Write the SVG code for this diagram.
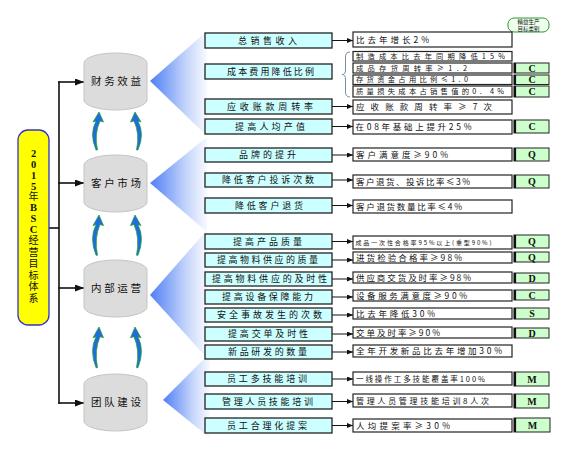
<svg xmlns="http://www.w3.org/2000/svg" xmlns:xlink="http://www.w3.org/1999/xlink" width="570" height="458" viewBox="0 0 570 458">
<style>
.lb{fill:#ccffff;stroke:#222;stroke-width:1.3}
.rb{fill:#fff;stroke:#222;stroke-width:1.2}
.gb{fill:#ccffcc;stroke:#222;stroke-width:1}
.gl{stroke:#111;stroke-width:2.2}
.t{font-family:"Noto Sans CJK SC","Liberation Sans",sans-serif;font-size:8.5px;fill:#111}
.lt{font-size:9px}
.st{font-size:7.3px}
.ct{font-size:10.5px;text-anchor:middle}
.g{font-family:"Liberation Serif",serif;font-weight:bold;font-size:10px;text-anchor:middle;fill:#111}
.cy{fill:#dcdcdc;stroke:#c4c4c4;stroke-width:1}
.big{fill:none;stroke:#111;stroke-width:1.6}
.sm{fill:none;stroke:#111;stroke-width:1}
.vt{font-family:"Noto Sans CJK SC",sans-serif;font-size:10px;text-anchor:middle;fill:#111}
.vd{font-family:"Liberation Serif",serif;font-weight:bold;font-size:10.5px}
</style>
<defs>
<marker id="ah" markerUnits="userSpaceOnUse" markerWidth="9" markerHeight="7" refX="9" refY="3.5" orient="auto"><path d="M0,0 L9,3.5 L0,7 Z" fill="#111"/></marker>
<marker id="as" markerUnits="userSpaceOnUse" markerWidth="6" markerHeight="5" refX="6" refY="2.5" orient="auto"><path d="M0,0 L6,2.5 L0,5 Z" fill="#111"/></marker>
<linearGradient id="f1" gradientUnits="userSpaceOnUse" x1="150" y1="0" x2="210" y2="0"><stop offset="0" stop-color="#4f7ff5"/><stop offset="0.6" stop-color="#c4d4fb"/><stop offset="1" stop-color="#ffffff"/></linearGradient>
<linearGradient id="f4" gradientUnits="userSpaceOnUse" x1="163" y1="0" x2="212" y2="0"><stop offset="0" stop-color="#4f7ff5"/><stop offset="0.6" stop-color="#c4d4fb"/><stop offset="1" stop-color="#ffffff"/></linearGradient>
<path id="ba" d="M0,0 L4.5,10 L1,9 Q-5,22 -1.5,38 L-3,38 Q-10,22 -3,9 L-6,10 Z" fill="#1d6fd6" stroke="#1f9a3a" stroke-width="0.7"/>
</defs>

<g id="fans">
<polygon points="150,81 207,31 207,136" fill="url(#f1)"/>
<polygon points="150,183 207,137 207,232" fill="url(#f1)"/>
<polygon points="150,295 207,230 207,358" fill="url(#f1)"/>
<polygon points="163,400 210,353 210,438" fill="url(#f4)"/>
</g>

<g id="connectors">
<line class="big" x1="49" y1="228" x2="59" y2="228"/>
<line class="big" x1="59" y1="81.2" x2="59" y2="403.8"/>
<line class="big" x1="58.2" y1="82" x2="84" y2="82" marker-end="url(#ah)"/>
<line class="big" x1="58.2" y1="183" x2="84" y2="183" marker-end="url(#ah)"/>
<line class="big" x1="58.2" y1="288" x2="84" y2="288" marker-end="url(#ah)"/>
<line class="big" x1="58.2" y1="403" x2="84" y2="403" marker-end="url(#ah)"/>
<use xlink:href="#ba" transform="translate(99,112)"/>
<use xlink:href="#ba" transform="translate(135,112) scale(-1,1)"/>
<use xlink:href="#ba" transform="translate(99,215) scale(1,1.06)"/>
<use xlink:href="#ba" transform="translate(135,215) scale(-1,1.06)"/>
<use xlink:href="#ba" transform="translate(99,327) scale(1,1.07)"/>
<use xlink:href="#ba" transform="translate(135,327) scale(-1,1.07)"/>
<line class="sm" x1="332" y1="40.5" x2="353" y2="40.5" marker-end="url(#as)"/>
<line class="sm" x1="332" y1="106.5" x2="353" y2="106.5" marker-end="url(#as)"/>
<line class="sm" x1="332" y1="126.5" x2="353" y2="126.5" marker-end="url(#as)"/>
<line class="sm" x1="332" y1="155" x2="353" y2="155" marker-end="url(#as)"/>
<line class="sm" x1="332" y1="180" x2="353" y2="180" marker-end="url(#as)"/>
<line class="sm" x1="332" y1="205.5" x2="353" y2="205.5" marker-end="url(#as)"/>
<line class="sm" x1="332" y1="241.5" x2="353" y2="241.5" marker-end="url(#as)"/>
<line class="sm" x1="332" y1="260" x2="353" y2="260" marker-end="url(#as)"/>
<line class="sm" x1="332" y1="279" x2="353" y2="279" marker-end="url(#as)"/>
<line class="sm" x1="332" y1="297" x2="353" y2="297" marker-end="url(#as)"/>
<line class="sm" x1="332" y1="315" x2="353" y2="315" marker-end="url(#as)"/>
<line class="sm" x1="332" y1="334" x2="353" y2="334" marker-end="url(#as)"/>
<line class="sm" x1="332" y1="352" x2="353" y2="352" marker-end="url(#as)"/>
<line class="sm" x1="332" y1="379" x2="353" y2="379" marker-end="url(#as)"/>
<line class="sm" x1="332" y1="401.5" x2="353" y2="401.5" marker-end="url(#as)"/>
<line class="sm" x1="332" y1="425.5" x2="353" y2="425.5" marker-end="url(#as)"/>
<path d="M350,52 Q345.5,52 345.5,57 L345.5,70 Q345.5,74.5 342,74.5 Q345.5,74.5 345.5,79 L345.5,92 Q345.5,97 350,97" fill="none" stroke="#6f7f99" stroke-width="0.9"/>
</g>

<g id="title">
<rect x="18" y="130" width="31" height="195" rx="10" fill="#ffff00" stroke="#3333cc" stroke-width="1.3"/>
<text class="vt"><tspan class="vd" x="33.5" y="157">2</tspan><tspan class="vd" x="33.5" y="168">0</tspan><tspan class="vd" x="33.5" y="179">1</tspan><tspan class="vd" x="33.5" y="190">5</tspan><tspan x="33.5" y="199.5">年</tspan><tspan class="vd" x="33.5" y="211">B</tspan><tspan class="vd" x="33.5" y="222">S</tspan><tspan class="vd" x="33.5" y="233">C</tspan><tspan x="33.5" y="244">经</tspan><tspan x="33.5" y="255.5">营</tspan><tspan x="33.5" y="267">目</tspan><tspan x="33.5" y="278.5">标</tspan><tspan x="33.5" y="290">体</tspan><tspan x="33.5" y="301.5">系</tspan></text>
</g>

<g id="cyl-finance"><path class="cy" d="M84,63 A31.5,10 0 0 1 147,63 L147,100 A31.5,10 0 0 1 84,100 Z"/><text class="t ct" x="116" y="85" textLength="50" lengthAdjust="spacing">财务效益</text></g>
<g id="cyl-customer"><path class="cy" d="M84,165 A31.5,10 0 0 1 147,165 L147,202 A31.5,10 0 0 1 84,202 Z"/><text class="t ct" x="116" y="187" textLength="50" lengthAdjust="spacing">客户市场</text></g>
<g id="cyl-internal"><path class="cy" d="M84,270 A31.5,10 0 0 1 147,270 L147,307 A31.5,10 0 0 1 84,307 Z"/><text class="t ct" x="116" y="292" textLength="50" lengthAdjust="spacing">内部运营</text></g>
<g id="cyl-team"><path class="cy" d="M84,384 A31.5,10 0 0 1 147,384 L147,421 A31.5,10 0 0 1 84,421 Z"/><text class="t ct" x="116" y="406" textLength="50" lengthAdjust="spacing">团队建设</text></g>

<g id="legend"><rect x="508" y="18" width="41" height="14" rx="6" fill="#eeffee" stroke="#339933" stroke-width="1"/><text class="t" x="528.5" y="24" text-anchor="middle" style="font-size:5.5px">精益生产</text><text class="t" x="528.5" y="30.5" text-anchor="middle" style="font-size:5.5px">目标类别</text></g>

<g id="left-boxes">
<g id="l1"><rect class="lb" x="205" y="33" width="127" height="15"/><text class="t lt" x="238" y="43.5" textLength="59" lengthAdjust="spacing">总销售收入</text></g>
<g id="l2"><rect class="lb" x="205" y="64" width="127" height="15"/><text class="t lt" x="227" y="74.5" textLength="87" lengthAdjust="spacing">成本费用降低比例</text></g>
<g id="l3"><rect class="lb" x="205" y="99" width="127" height="15"/><text class="t lt" x="227" y="109.5" textLength="86" lengthAdjust="spacing">应收账款周转率</text></g>
<g id="l4"><rect class="lb" x="205" y="119" width="127" height="15"/><text class="t lt" x="235" y="129.5" textLength="70" lengthAdjust="spacing">提高人均产值</text></g>
<g id="l5"><rect class="lb" x="205" y="148" width="127" height="14"/><text class="t lt" x="239" y="158" textLength="57" lengthAdjust="spacing">品牌的提升</text></g>
<g id="l6"><rect class="lb" x="205" y="173" width="127" height="14"/><text class="t lt" x="222" y="183" textLength="92" lengthAdjust="spacing">降低客户投诉次数</text></g>
<g id="l7"><rect class="lb" x="205" y="198" width="127" height="15"/><text class="t lt" x="235" y="208.5" textLength="68" lengthAdjust="spacing">降低客户退货</text></g>
<g id="l8"><rect class="lb" x="205" y="234" width="127" height="15"/><text class="t lt" x="233" y="244.5" textLength="69" lengthAdjust="spacing">提高产品质量</text></g>
<g id="l9"><rect class="lb" x="205" y="253" width="127" height="14"/><text class="t lt" x="217" y="263" textLength="101" lengthAdjust="spacing">提高物料供应的质量</text></g>
<g id="l10"><rect class="lb" x="205" y="272" width="127" height="14"/><text class="t lt" x="212" y="282" textLength="115" lengthAdjust="spacing">提高物料供应的及时性</text></g>
<g id="l11"><rect class="lb" x="205" y="290" width="127" height="14"/><text class="t lt" x="222" y="300" textLength="91" lengthAdjust="spacing">提高设备保障能力</text></g>
<g id="l12"><rect class="lb" x="205" y="308" width="127" height="14"/><text class="t lt" x="217" y="318" textLength="105" lengthAdjust="spacing">安全事故发生的次数</text></g>
<g id="l13"><rect class="lb" x="205" y="327" width="127" height="14"/><text class="t lt" x="228" y="337" textLength="80" lengthAdjust="spacing">提高交单及时性</text></g>
<g id="l14"><rect class="lb" x="205" y="345" width="127" height="14"/><text class="t lt" x="228" y="355" textLength="79" lengthAdjust="spacing">新品研发的数量</text></g>
<g id="l15"><rect class="lb" x="205" y="372" width="127" height="14"/><text class="t lt" x="227" y="382" textLength="80" lengthAdjust="spacing">员工多技能培训</text></g>
<g id="l16"><rect class="lb" x="205" y="394" width="127" height="15"/><text class="t lt" x="222" y="404.5" textLength="91" lengthAdjust="spacing">管理人员技能培训</text></g>
<g id="l17"><rect class="lb" x="205" y="418" width="127" height="15"/><text class="t lt" x="227" y="428.5" textLength="80" lengthAdjust="spacing">员工合理化提案</text></g>
</g>

<g id="right-boxes">
<g id="r1"><rect class="rb" x="353" y="32" width="159" height="15"/><text class="t" x="356" y="42.5" textLength="73" lengthAdjust="spacing">比去年增长2%</text></g>
<g id="r2"><rect class="rb" x="353" y="51.5" width="159" height="9.5"/><text class="t st" x="356" y="59" textLength="149" lengthAdjust="spacing">制造成本比去年同期降低15%</text></g>
<g id="r3"><rect class="rb" x="353" y="63" width="159" height="10"/><text class="t st" x="356" y="70.7" textLength="111" lengthAdjust="spacing">成品存货周转率≥1.2</text></g>
<g id="r4"><rect class="rb" x="353" y="75" width="159" height="9.5"/><text class="t st" x="356" y="82.4" textLength="112" lengthAdjust="spacing">存货资金占用比例≤1.0</text></g>
<g id="r5"><rect class="rb" x="353" y="86" width="159" height="11"/><text class="t st" x="356" y="94.2" textLength="148" lengthAdjust="spacing">质量损失成本占销售值的0. 4%</text></g>
<g id="r6"><rect class="rb" x="353" y="100" width="159" height="14"/><text class="t" x="356" y="110" textLength="136" lengthAdjust="spacing">应收账款周转率≥7次</text></g>
<g id="r7"><rect class="rb" x="353" y="120" width="159" height="14"/><text class="t" x="355.5" y="130" textLength="116" lengthAdjust="spacing">在08年基础上提升25%</text></g>
<g id="r8"><rect class="rb" x="353" y="148" width="159" height="13"/><text class="t" x="356" y="157.5" textLength="92" lengthAdjust="spacing">客户满意度≥90%</text></g>
<g id="r9"><rect class="rb" x="353" y="175" width="159" height="13"/><text class="t" x="356" y="184.5" textLength="114" lengthAdjust="spacing">客户退货、投诉比率≤3%</text></g>
<g id="r10"><rect class="rb" x="353" y="200" width="159" height="13"/><text class="t" x="356" y="209.5" textLength="106" lengthAdjust="spacing">客户退货数量比率≤4%</text></g>
<g id="r11"><rect class="rb" x="353" y="236" width="159" height="13"/><text class="t" x="355.5" y="244.5" textLength="136" lengthAdjust="spacing" style="font-size:6px">成品一次性合格率95%以上(重型90%)</text></g>
<g id="r12"><rect class="rb" x="353" y="252" width="159" height="11"/><text class="t" x="356" y="260.6" textLength="106" lengthAdjust="spacing">进货检验合格率≥98%</text></g>
<g id="r13"><rect class="rb" x="353" y="272" width="159" height="11"/><text class="t" x="356" y="280.6" textLength="115" lengthAdjust="spacing">供应商交货及时率≥98%</text></g>
<g id="r14"><rect class="rb" x="353" y="290" width="159" height="11"/><text class="t" x="356" y="298.6" textLength="111" lengthAdjust="spacing">设备服务满意度≥90%</text></g>
<g id="r15"><rect class="rb" x="353" y="308" width="159" height="11"/><text class="t" x="356" y="316.6" textLength="79" lengthAdjust="spacing">比去年降低30%</text></g>
<g id="r16"><rect class="rb" x="353" y="327" width="159" height="11"/><text class="t" x="356" y="335.6" textLength="84" lengthAdjust="spacing">交单及时率≥90%</text></g>
<g id="r17"><rect class="rb" x="353" y="345" width="159" height="12"/><text class="t" x="356" y="354" textLength="146" lengthAdjust="spacing">全年开发新品比去年增加30%</text></g>
<g id="r18"><rect class="rb" x="353" y="372" width="159" height="13"/><text class="t" x="356" y="381.5" textLength="129" lengthAdjust="spacing" style="font-size:7.5px">一线操作工多技能覆盖率100%</text></g>
<g id="r19"><rect class="rb" x="353" y="394" width="159" height="13"/><text class="t" x="356" y="403.5" textLength="133" lengthAdjust="spacing" style="font-size:8px">管理人员管理技能培训8人次</text></g>
<g id="r20"><rect class="rb" x="353" y="419" width="159" height="13"/><text class="t" x="356" y="428.5" textLength="94" lengthAdjust="spacing">人均提案率≥30%</text></g>
</g>

<g id="category-boxes">
<g id="c3"><rect class="gb" x="514" y="63" width="35" height="10"/><line class="gl" x1="515" y1="63" x2="515" y2="73"/><text class="g" x="532" y="71.5">C</text></g>
<g id="c4"><rect class="gb" x="514" y="75" width="35" height="9.5"/><line class="gl" x1="515" y1="75" x2="515" y2="84.5"/><text class="g" x="532" y="83">C</text></g>
<g id="c5"><rect class="gb" x="514" y="86" width="35" height="11"/><line class="gl" x1="515" y1="86" x2="515" y2="97"/><text class="g" x="532" y="95">C</text></g>
<g id="c7"><rect class="gb" x="514" y="120" width="35" height="13"/><line class="gl" x1="515" y1="120" x2="515" y2="133"/><text class="g" x="532" y="130">C</text></g>
<g id="c8"><rect class="gb" x="514" y="148" width="35" height="13"/><line class="gl" x1="515" y1="148" x2="515" y2="161"/><text class="g" x="532" y="158">Q</text></g>
<g id="c9"><rect class="gb" x="514" y="175" width="35" height="13"/><line class="gl" x1="515" y1="175" x2="515" y2="188"/><text class="g" x="532" y="185">Q</text></g>
<g id="c11"><rect class="gb" x="514" y="235" width="35" height="13"/><line class="gl" x1="515" y1="235" x2="515" y2="248"/><text class="g" x="532" y="245">Q</text></g>
<g id="c12"><rect class="gb" x="514" y="252" width="35" height="10"/><line class="gl" x1="515" y1="252" x2="515" y2="262"/><text class="g" x="532" y="260.5">Q</text></g>
<g id="c13"><rect class="gb" x="514" y="273" width="35" height="10"/><line class="gl" x1="515" y1="273" x2="515" y2="283"/><text class="g" x="532" y="281.5">D</text></g>
<g id="c14"><rect class="gb" x="514" y="290" width="35" height="10"/><line class="gl" x1="515" y1="290" x2="515" y2="300"/><text class="g" x="532" y="298.5">C</text></g>
<g id="c15"><rect class="gb" x="514" y="308" width="35" height="11"/><line class="gl" x1="515" y1="308" x2="515" y2="319"/><text class="g" x="532" y="317">S</text></g>
<g id="c16"><rect class="gb" x="514" y="328" width="35" height="10"/><line class="gl" x1="515" y1="328" x2="515" y2="338"/><text class="g" x="532" y="336.5">D</text></g>
<g id="c18"><rect class="gb" x="514" y="372" width="35" height="14"/><line class="gl" x1="515" y1="372" x2="515" y2="386"/><text class="g" x="532" y="382.5">M</text></g>
<g id="c19"><rect class="gb" x="514" y="394" width="35" height="14"/><line class="gl" x1="515" y1="394" x2="515" y2="408"/><text class="g" x="532" y="404.5">M</text></g>
<g id="c20"><rect class="gb" x="514" y="418" width="36" height="14"/><line class="gl" x1="515" y1="418" x2="515" y2="432"/><text class="g" x="532.5" y="428.5">M</text></g>
</g>
</svg>
